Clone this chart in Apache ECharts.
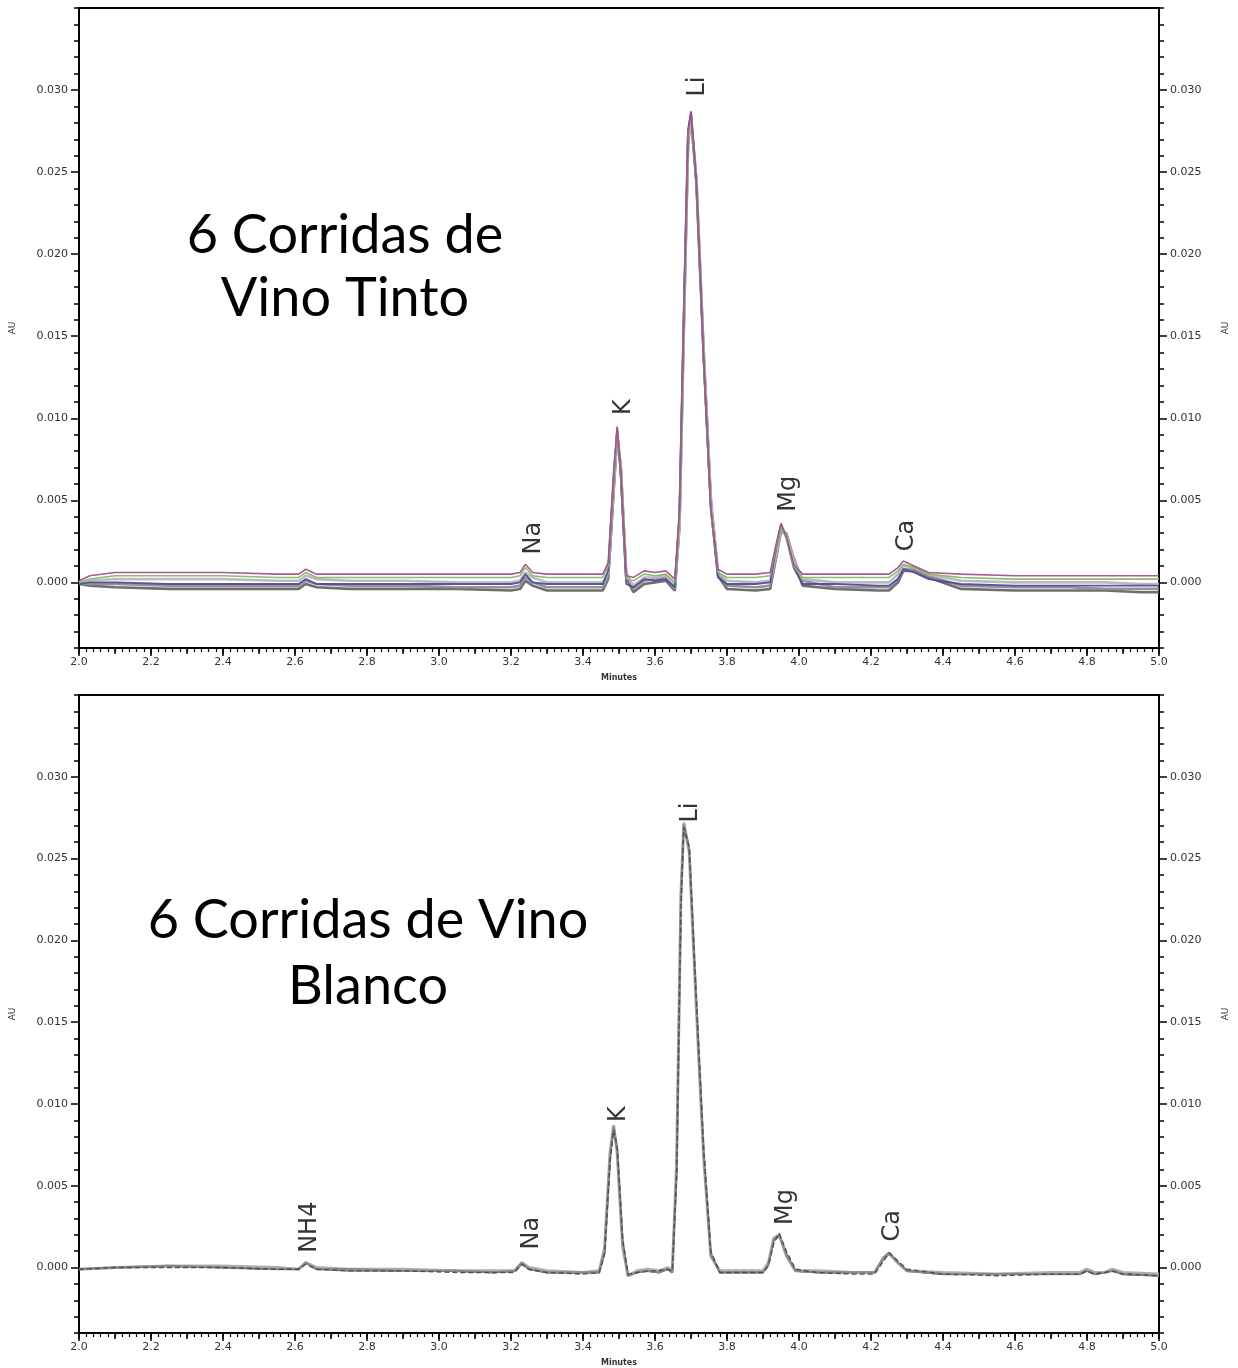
<!DOCTYPE html>
<html>
<head>
<meta charset="utf-8">
<title>Corridas de vino</title>
<script src="https://cdn.jsdelivr.net/npm/echarts@6/dist/echarts.min.js"></script>
<style>
html, body { margin: 0; padding: 0; background: #fff; }
#chart { width: 1238px; height: 1368px; }
</style>
</head>
<body>
<div id="chart"></div>
<script>
// ---- Retention times (minutes) and detector response (AU) ----

// Red wine: six injections sharing one time base
const tintoTimes = [2.00, 2.03, 2.10, 2.25, 2.40, 2.55, 2.61, 2.63, 2.66, 2.75,
  2.90, 3.05, 3.20, 3.225, 3.24, 3.26, 3.30, 3.40, 3.455, 3.47,
  3.485, 3.495, 3.505, 3.52, 3.54, 3.57, 3.60, 3.63, 3.655, 3.668,
  3.68, 3.692, 3.70, 3.715, 3.735, 3.755, 3.775, 3.80, 3.88, 3.92,
  3.935, 3.95, 3.965, 3.985, 4.01, 4.10, 4.22, 4.25, 4.275, 4.29,
  4.32, 4.36, 4.45, 4.60, 4.75, 4.85, 4.95, 5.00];

const tintoRun1 = [0.0001, 0.0004, 0.0006, 0.0006, 0.0006, 0.0005, 0.0005, 0.0008, 0.0005, 0.0005,
  0.0005, 0.0005, 0.0005, 0.0006, 0.0011, 0.0006, 0.0005, 0.0005, 0.0005, 0.0012,
  0.0068, 0.0095, 0.0068, 0.0004, 0.0003, 0.0007, 0.0006, 0.0007, 0.0002, 0.0045,
  0.0165, 0.0275, 0.0286, 0.0242, 0.0137, 0.0045, 0.0008, 0.0005, 0.0005, 0.0006,
  0.0022, 0.0036, 0.0028, 0.0011, 0.0005, 0.0005, 0.0005, 0.0005, 0.0009, 0.0013,
  0.0010, 0.0006, 0.0005, 0.0004, 0.0004, 0.0004, 0.0004, 0.0004];
const tintoRun2 = [0.0000, 0.0002, 0.0004, 0.0004, 0.0004, 0.0003, 0.0003, 0.0006, 0.0003, 0.0003,
  0.0003, 0.0003, 0.0003, 0.0004, 0.0009, 0.0004, 0.0003, 0.0003, 0.0003, 0.0010,
  0.0064, 0.0092, 0.0066, 0.0002, 0.0001, 0.0005, 0.0004, 0.0005, 0.0000, 0.0040,
  0.0160, 0.0272, 0.0284, 0.0240, 0.0135, 0.0043, 0.0006, 0.0003, 0.0003, 0.0004,
  0.0020, 0.0034, 0.0027, 0.0010, 0.0003, 0.0003, 0.0003, 0.0003, 0.0007, 0.0011,
  0.0009, 0.0005, 0.0003, 0.0002, 0.0002, 0.0002, 0.0002, 0.0002];
const tintoRun3 = [0.0000, 0.0001, 0.0002, 0.0002, 0.0002, 0.0001, 0.0001, 0.0004, 0.0002, 0.0001,
  0.0001, 0.0000, 0.0000, 0.0001, 0.0006, 0.0003, 0.0000, 0.0000, 0.0000, 0.0006,
  0.0058, 0.0090, 0.0070, 0.0005, -0.0002, 0.0003, 0.0003, 0.0004, -0.0002, 0.0035,
  0.0155, 0.0270, 0.0283, 0.0245, 0.0140, 0.0050, 0.0006, 0.0001, 0.0000, 0.0001,
  0.0016, 0.0033, 0.0029, 0.0013, 0.0002, 0.0000, 0.0000, 0.0000, 0.0005, 0.0010,
  0.0009, 0.0005, 0.0001, 0.0000, 0.0000, 0.0000, -0.0001, -0.0001];
const tintoRun4 = [-0.0001, 0.0000, 0.0000, -0.0001, -0.0001, -0.0001, -0.0001, 0.0002, -0.0001, -0.0001,
  -0.0001, -0.0001, -0.0001, 0.0000, 0.0005, 0.0000, -0.0001, -0.0001, -0.0001, 0.0007,
  0.0062, 0.0094, 0.0064, -0.0001, -0.0003, 0.0002, 0.0001, 0.0002, -0.0003, 0.0042,
  0.0163, 0.0276, 0.0287, 0.0243, 0.0136, 0.0044, 0.0003, -0.0001, -0.0001, 0.0000,
  0.0019, 0.0035, 0.0027, 0.0009, -0.0001, -0.0001, -0.0002, -0.0002, 0.0002, 0.0008,
  0.0006, 0.0002, -0.0001, -0.0002, -0.0002, -0.0002, -0.0002, -0.0002];
const tintoRun5 = [-0.0001, -0.0001, -0.0001, -0.0002, -0.0002, -0.0002, -0.0002, 0.0001, -0.0001, -0.0002,
  -0.0002, -0.0003, -0.0003, -0.0002, 0.0003, 0.0000, -0.0003, -0.0003, -0.0003, 0.0003,
  0.0055, 0.0089, 0.0071, 0.0006, -0.0004, 0.0001, 0.0002, 0.0003, -0.0004, 0.0033,
  0.0152, 0.0267, 0.0281, 0.0246, 0.0142, 0.0052, 0.0006, -0.0002, -0.0003, -0.0002,
  0.0013, 0.0031, 0.0030, 0.0015, 0.0001, -0.0003, -0.0003, -0.0003, 0.0002, 0.0008,
  0.0008, 0.0004, -0.0002, -0.0003, -0.0003, -0.0004, -0.0004, -0.0004];
const tintoRun6 = [-0.0001, -0.0002, -0.0003, -0.0004, -0.0004, -0.0004, -0.0004, -0.0001, -0.0003, -0.0004,
  -0.0004, -0.0004, -0.0005, -0.0004, 0.0001, -0.0002, -0.0005, -0.0005, -0.0005, 0.0002,
  0.0056, 0.0091, 0.0069, 0.0003, -0.0006, -0.0001, 0.0000, 0.0001, -0.0005, 0.0036,
  0.0158, 0.0272, 0.0285, 0.0244, 0.0139, 0.0049, 0.0004, -0.0004, -0.0005, -0.0004,
  0.0014, 0.0032, 0.0029, 0.0013, -0.0002, -0.0004, -0.0005, -0.0005, 0.0000, 0.0007,
  0.0007, 0.0003, -0.0004, -0.0005, -0.0005, -0.0005, -0.0006, -0.0006];

// White wine: six injections sharing one time base
const blancoTimes = [2.00, 2.10, 2.25, 2.40, 2.55, 2.61, 2.63, 2.66, 2.75, 2.90,
  3.05, 3.15, 3.21, 3.23, 3.25, 3.30, 3.40, 3.445, 3.46, 3.475,
  3.485, 3.495, 3.51, 3.525, 3.55, 3.58, 3.61, 3.635, 3.648, 3.66,
  3.672, 3.68, 3.695, 3.715, 3.735, 3.755, 3.78, 3.85, 3.90, 3.915,
  3.93, 3.945, 3.965, 3.99, 4.05, 4.15, 4.21, 4.235, 4.25, 4.27,
  4.30, 4.40, 4.55, 4.70, 4.78, 4.80, 4.82, 4.85, 4.87, 4.90, 5.00];

const blancoRun1 = [-0.0001, 0.0000, 0.0001, 0.0000, -0.0001, -0.0001, 0.0003, -0.0001, -0.0001, -0.0002,
  -0.0002, -0.0003, -0.0002, 0.0003, -0.0001, -0.0003, -0.0003, -0.0003, 0.0010, 0.0068,
  0.0086, 0.0072, 0.0015, -0.0005, -0.0003, -0.0002, -0.0003, -0.0001, -0.0003, 0.0060,
  0.0225, 0.0271, 0.0256, 0.0160, 0.0070, 0.0008, -0.0003, -0.0003, -0.0003, 0.0002,
  0.0017, 0.0020, 0.0008, -0.0002, -0.0003, -0.0003, -0.0003, 0.0006, 0.0009, 0.0004,
  -0.0002, -0.0004, -0.0004, -0.0004, -0.0004, -0.0002, -0.0004, -0.0003, -0.0002, -0.0004, -0.0005];
const blancoRun2 = [-0.0001, 0.0000, 0.0000, 0.0000, -0.0001, -0.0001, 0.0002, -0.0001, -0.0002, -0.0002,
  -0.0003, -0.0003, -0.0003, 0.0002, -0.0001, -0.0003, -0.0004, -0.0003, 0.0008, 0.0064,
  0.0084, 0.0074, 0.0018, -0.0004, -0.0003, -0.0002, -0.0002, -0.0001, -0.0002, 0.0055,
  0.0220, 0.0269, 0.0257, 0.0163, 0.0073, 0.0010, -0.0003, -0.0003, -0.0003, 0.0001,
  0.0015, 0.0021, 0.0010, -0.0001, -0.0003, -0.0004, -0.0004, 0.0004, 0.0009, 0.0005,
  -0.0001, -0.0004, -0.0005, -0.0004, -0.0004, -0.0002, -0.0004, -0.0003, -0.0002, -0.0004, -0.0005];
const blancoRun3 = [-0.0001, 0.0000, 0.0001, 0.0001, 0.0000, -0.0001, 0.0003, 0.0000, -0.0001, -0.0001,
  -0.0002, -0.0002, -0.0002, 0.0003, 0.0000, -0.0002, -0.0003, -0.0002, 0.0012, 0.0070,
  0.0087, 0.0070, 0.0013, -0.0005, -0.0002, -0.0001, -0.0002, 0.0000, -0.0002, 0.0064,
  0.0228, 0.0272, 0.0254, 0.0158, 0.0068, 0.0007, -0.0002, -0.0002, -0.0002, 0.0003,
  0.0018, 0.0020, 0.0007, -0.0002, -0.0002, -0.0003, -0.0003, 0.0006, 0.0009, 0.0004,
  -0.0002, -0.0003, -0.0004, -0.0003, -0.0003, -0.0001, -0.0003, -0.0003, -0.0001, -0.0003, -0.0004];
const blancoRun4 = [-0.0001, 0.0000, 0.0001, 0.0000, -0.0001, -0.0001, 0.0003, -0.0001, -0.0001, -0.0002,
  -0.0002, -0.0003, -0.0002, 0.0003, -0.0001, -0.0003, -0.0003, -0.0003, 0.0010, 0.0067,
  0.0085, 0.0071, 0.0015, -0.0005, -0.0003, -0.0002, -0.0003, -0.0001, -0.0003, 0.0059,
  0.0224, 0.0270, 0.0255, 0.0160, 0.0070, 0.0008, -0.0003, -0.0003, -0.0003, 0.0002,
  0.0016, 0.0020, 0.0008, -0.0002, -0.0003, -0.0003, -0.0003, 0.0005, 0.0009, 0.0004,
  -0.0002, -0.0004, -0.0004, -0.0004, -0.0004, -0.0002, -0.0004, -0.0003, -0.0002, -0.0004, -0.0005];
const blancoRun5 = [-0.0001, 0.0000, 0.0001, 0.0000, -0.0001, -0.0001, 0.0003, -0.0001, -0.0001, -0.0002,
  -0.0002, -0.0003, -0.0002, 0.0002, -0.0001, -0.0003, -0.0003, -0.0003, 0.0009, 0.0066,
  0.0086, 0.0073, 0.0016, -0.0005, -0.0003, -0.0002, -0.0003, -0.0001, -0.0003, 0.0061,
  0.0226, 0.0271, 0.0256, 0.0161, 0.0071, 0.0009, -0.0003, -0.0003, -0.0003, 0.0002,
  0.0017, 0.0020, 0.0008, -0.0002, -0.0003, -0.0003, -0.0003, 0.0006, 0.0009, 0.0004,
  -0.0002, -0.0004, -0.0004, -0.0004, -0.0004, -0.0002, -0.0004, -0.0003, -0.0002, -0.0004, -0.0005];
const blancoRun6 = [-0.0001, 0.0000, 0.0001, 0.0000, -0.0001, -0.0001, 0.0003, -0.0001, -0.0002, -0.0002,
  -0.0002, -0.0003, -0.0002, 0.0003, -0.0001, -0.0003, -0.0003, -0.0003, 0.0011, 0.0069,
  0.0085, 0.0071, 0.0014, -0.0005, -0.0003, -0.0002, -0.0003, -0.0001, -0.0003, 0.0062,
  0.0227, 0.0270, 0.0255, 0.0159, 0.0069, 0.0008, -0.0003, -0.0003, -0.0003, 0.0002,
  0.0017, 0.0019, 0.0008, -0.0002, -0.0003, -0.0003, -0.0003, 0.0006, 0.0008, 0.0004,
  -0.0002, -0.0004, -0.0004, -0.0004, -0.0004, -0.0002, -0.0004, -0.0003, -0.0002, -0.0004, -0.0005];

// Peak identification labels (where each label sits: minutes, AU at its foot)
const tintoPeakNames   = ['Na', 'K', 'Li', 'Mg', 'Ca'];
const tintoLabelTimes  = [3.262, 3.512, 3.718, 3.971, 4.298];
const tintoLabelLevels = [0.0017, 0.0102, 0.0296, 0.0043, 0.0019];

const blancoPeakNames   = ['NH4', 'Na', 'K', 'Li', 'Mg', 'Ca'];
const blancoLabelTimes  = [2.640, 3.259, 3.498, 3.699, 3.963, 4.260];
const blancoLabelLevels = [0.0009, 0.0011, 0.0089, 0.0272, 0.0026, 0.0016];

// Axis ticks
const yLabelValues = [0, 0.005, 0.010, 0.015, 0.020, 0.025, 0.030];
const yMin = -0.004, yMax = 0.035;
const xMin = 2.0, xMax = 5.0;

// Panel titles
const tintoTitle  = ['6 Corridas de', 'Vino Tinto'];
const blancoTitle = ['6 Corridas de Vino', 'Blanco'];

// ---- Chart construction ----
const TICK_FONT = 'DejaVu Sans';
const TICK_COLOR = '#333';
const grids = [
  { left: 79, right: 69, top: 8, height: 640 },
  { left: 79, right: 69, top: 695, height: 641 }
];

function xAxesFor(g) {
  return [
    {
      gridIndex: g, type: 'value', position: 'bottom', min: xMin, max: xMax, interval: 0.2,
      axisLine: { show: true, onZero: false, lineStyle: { color: '#000', width: 2 } },
      axisTick: { show: true, length: 8, lineStyle: { color: '#000', width: 1.5 } },
      minorTick: { show: true, splitNumber: 10, length: 4, lineStyle: { color: '#000', width: 1.2 } },
      axisLabel: { formatter: v => v.toFixed(1), fontSize: 11, fontFamily: TICK_FONT, color: TICK_COLOR, margin: 9 },
      splitLine: { show: false }, minorSplitLine: { show: false },
      name: 'Minutes', nameLocation: 'middle', nameGap: 26,
      nameTextStyle: { fontSize: 8, fontFamily: TICK_FONT, color: TICK_COLOR, fontWeight: 'bold' }
    },
    {
      // medium ticks on each tenth of a minute
      gridIndex: g, type: 'value', position: 'bottom', min: xMin, max: xMax, interval: 0.1,
      axisLine: { show: false, onZero: false },
      axisTick: { show: true, length: 6, lineStyle: { color: '#000', width: 1.5 } },
      axisLabel: { show: false }, splitLine: { show: false }
    }
  ];
}

function yAxesFor(g) {
  const side = pos => ([
    {
      gridIndex: g, type: 'value', position: pos, min: yMin, max: yMax, interval: 0.001,
      axisLine: { show: true, onZero: false, lineStyle: { color: '#000', width: 2 } },
      axisTick: { show: true, length: 5, lineStyle: { color: '#000', width: 1.5 } },
      axisLabel: {
        show: true, customValues: yLabelValues, formatter: v => v.toFixed(3),
        fontSize: 11, fontFamily: TICK_FONT, color: TICK_COLOR, margin: 11
      },
      splitLine: { show: false },
      name: 'AU', nameLocation: 'middle', nameGap: 62, nameRotate: 90,
      nameTextStyle: { fontSize: 9, fontFamily: TICK_FONT, color: TICK_COLOR }
    },
    {
      // major ticks at every labelled value
      gridIndex: g, type: 'value', position: pos, min: yMin, max: yMax,
      axisLine: { show: false, onZero: false },
      axisTick: { show: true, length: 8, customValues: yLabelValues, lineStyle: { color: '#000', width: 1.5 } },
      axisLabel: { show: false }, splitLine: { show: false }
    }
  ]);
  return side('left').concat(side('right'));
}

function runSeries(g, times, values, color, width, type) {
  return {
    type: 'line', xAxisIndex: g * 2, yAxisIndex: g * 4,
    data: times.map((t, i) => [t, values[i]]),
    showSymbol: false, symbol: 'none', silent: true, animation: false,
    lineStyle: { color: color, width: width, type: type || 'solid', opacity: 0.95 }
  };
}

function peakLabelSeries(g, names, times, levels) {
  return {
    type: 'scatter', xAxisIndex: g * 2, yAxisIndex: g * 4,
    data: times.map((t, i) => [t, levels[i], names[i]]),
    symbolSize: 0, silent: true, animation: false, z: 10,
    label: {
      show: true, position: 'inside', rotate: 90, align: 'left', verticalAlign: 'middle',
      formatter: p => p.data[2],
      fontFamily: 'DejaVu Sans', fontSize: 24, color: '#000'
    }
  };
}

const series = [
  // red wine runs, grey traces underneath the coloured ones
  runSeries(0, tintoTimes, tintoRun6, '#666666', 2.6),
  runSeries(0, tintoTimes, tintoRun5, '#8e8e8e', 2.6),
  runSeries(0, tintoTimes, tintoRun3, '#b8b8b8', 2.6),
  runSeries(0, tintoTimes, tintoRun4, '#5549a0', 1.8),
  runSeries(0, tintoTimes, tintoRun2, '#82b96c', 1.6),
  runSeries(0, tintoTimes, tintoRun1, '#a5508c', 1.6),
  peakLabelSeries(0, tintoPeakNames, tintoLabelTimes, tintoLabelLevels),
  // white wine runs, coloured traces under the greys
  runSeries(1, blancoTimes, blancoRun4, '#4f9a72', 1.6),
  runSeries(1, blancoTimes, blancoRun5, '#5c4fa0', 1.6),
  runSeries(1, blancoTimes, blancoRun6, '#9a5a8a', 1.6),
  runSeries(1, blancoTimes, blancoRun3, '#aaaaaa', 3),
  runSeries(1, blancoTimes, blancoRun1, '#888888', 2.2),
  runSeries(1, blancoTimes, blancoRun2, '#4a4a55', 1.4, [5, 3]),
  peakLabelSeries(1, blancoPeakNames, blancoLabelTimes, blancoLabelLevels)
];

const TITLE_FONT = '54px Lato, "Open Sans", sans-serif';
function titleText(text, x, y) {
  return { type: 'text', silent: true, z: 20,
    style: { text: text, x: x, y: y, align: 'center', verticalAlign: 'middle', font: TITLE_FONT, fill: '#000' } };
}

const chart = echarts.init(document.getElementById('chart'), null, { renderer: 'canvas' });
chart.setOption({
  backgroundColor: '#fff',
  animation: false,
  grid: grids.map(g => Object.assign({ show: true, borderColor: '#000', borderWidth: 2, backgroundColor: 'transparent', containLabel: false }, g)),
  xAxis: xAxesFor(0).concat(xAxesFor(1)),
  yAxis: yAxesFor(0).concat(yAxesFor(1)),
  series: series,
  graphic: [
    titleText(tintoTitle[0], 345, 236),
    titleText(tintoTitle[1], 345, 299),
    titleText(blancoTitle[0], 368, 921),
    titleText(blancoTitle[1], 368, 987)
  ]
});
</script>
</body>
</html>
